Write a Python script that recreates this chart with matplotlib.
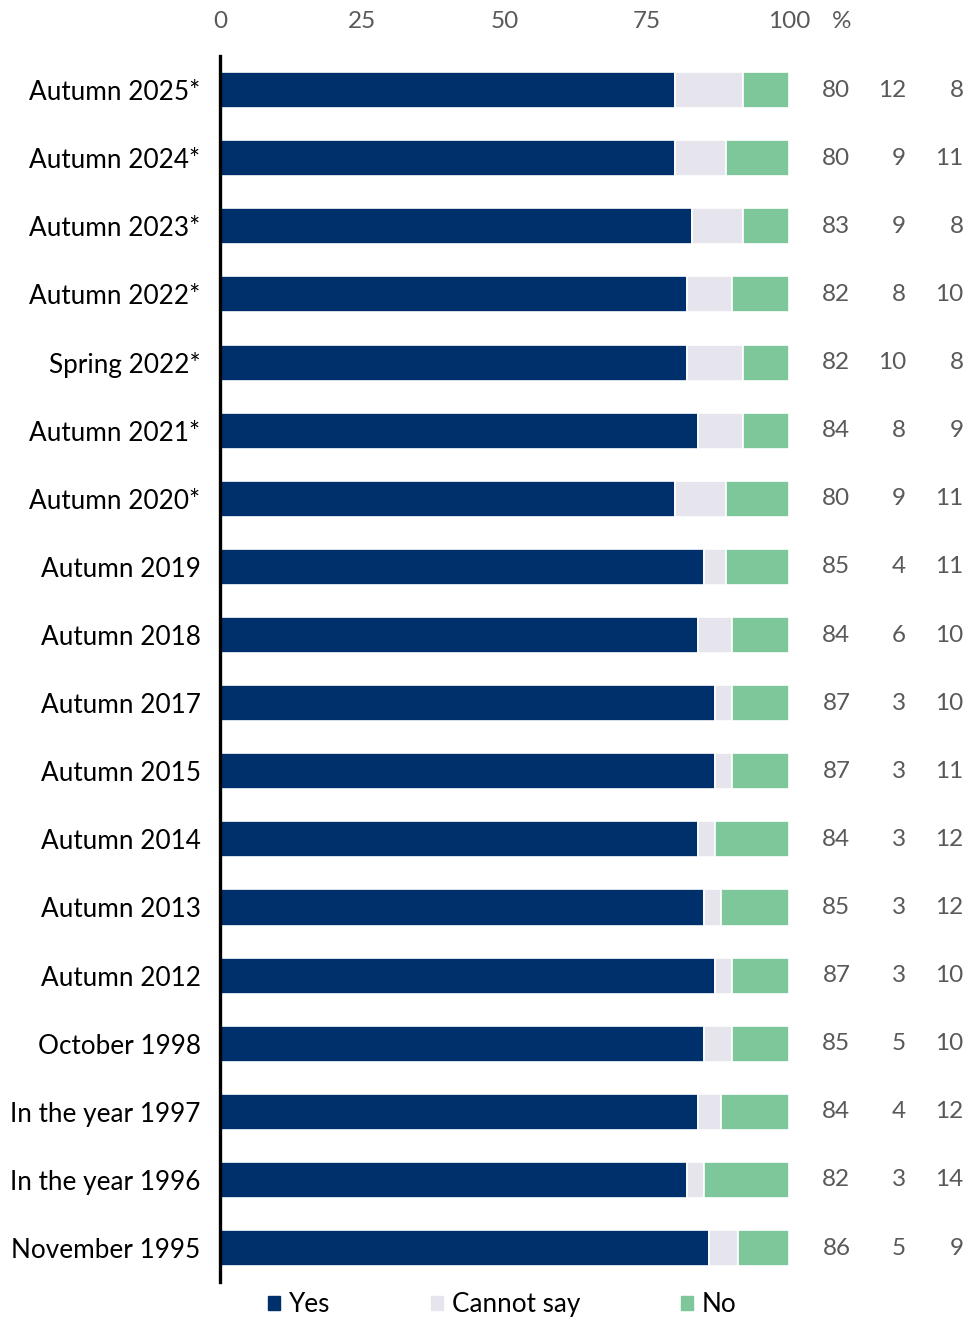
import matplotlib
matplotlib.use('Agg')
import matplotlib.pyplot as plt
from matplotlib.patches import Patch

plt.rcParams['font.family'] = ['Lato', 'DejaVu Sans']

categories = ['Autumn 2025*', 'Autumn 2024*', 'Autumn 2023*', 'Autumn 2022*',
              'Spring 2022*', 'Autumn 2021*', 'Autumn 2020*', 'Autumn 2019',
              'Autumn 2018', 'Autumn 2017', 'Autumn 2015', 'Autumn 2014',
              'Autumn 2013', 'Autumn 2012', 'October 1998', 'In the year 1997',
              'In the year 1996', 'November 1995']
yes = [80, 80, 83, 82, 82, 84, 80, 85, 84, 87, 87, 84, 85, 87, 85, 84, 82, 86]
cannot_say = [12, 9, 9, 8, 10, 8, 9, 4, 6, 3, 3, 3, 3, 3, 5, 4, 3, 5]
no = [8, 11, 8, 10, 8, 9, 11, 11, 10, 10, 11, 12, 12, 10, 10, 12, 14, 9]
xticks = [0, 25, 50, 75, 100]

c_yes = '#00306b'
c_cs = '#e6e4ec'
c_no = '#7dc79a'
grey = '#595959'
fs_lab = 18.8
fs_num = 17.5

fig = plt.figure(figsize=(9.7, 13.19), dpi=100)
ax = fig.add_axes([0.2268, 0.028, 0.5866, 0.9295])

y = list(range(len(categories)))
left3 = [a + b for a, b in zip(yes, cannot_say)]
# rounded labels don't always add up to 100, bars in the original always reach 100
no_width = [100 - l for l in left3]
ax.barh(y, yes, height=0.53, color=c_yes, edgecolor='white', linewidth=1.2)
ax.barh(y, cannot_say, left=yes, height=0.53, color=c_cs, edgecolor='white', linewidth=1.2)
ax.barh(y, no_width, left=left3, height=0.53, color=c_no, edgecolor='white', linewidth=1.2)

ax.set_ylim(len(categories) - 0.5, -0.5)
ax.set_xlim(0, 100)
ax.set_yticks(y)
ax.set_yticklabels(categories, fontsize=fs_lab, color='black')
ax.set_xticks(xticks)
ax.set_xticklabels([str(t) for t in xticks], fontsize=fs_num, color=grey)
ax.xaxis.tick_top()
ax.tick_params(axis='x', length=0, pad=17)
ax.tick_params(axis='y', length=0, pad=14)
for s in ['top', 'right', 'bottom']:
    ax.spines[s].set_visible(False)
ax.spines['left'].set_linewidth(2.4)
ax.spines['left'].set_color('black')

ax.annotate('%', xy=(109.2, 1.0), xycoords=('data', 'axes fraction'),
            xytext=(0, 17), textcoords='offset points', fontsize=fs_num,
            color=grey, ha='center', va='bottom', annotation_clip=False)

for i in y:
    ax.text(110.8, i, str(yes[i]), ha='right', va='center', fontsize=fs_num, color=grey, clip_on=False)
    ax.text(120.6, i, str(cannot_say[i]), ha='right', va='center', fontsize=fs_num, color=grey, clip_on=False)
    ax.text(130.7, i, str(no[i]), ha='right', va='center', fontsize=fs_num, color=grey, clip_on=False)

handles = [Patch(color=c_yes, label='Yes'), Patch(color=c_cs, label='Cannot say'),
           Patch(color=c_no, label='No')]
fig.legend(handles=handles, loc='center', bbox_to_anchor=(0.518, 0.011), ncol=3,
           frameon=False, fontsize=fs_lab, handlelength=0.45, handleheight=0.45,
           handletextpad=0.35, columnspacing=3.85)

fig.savefig('out.png', dpi=100)
